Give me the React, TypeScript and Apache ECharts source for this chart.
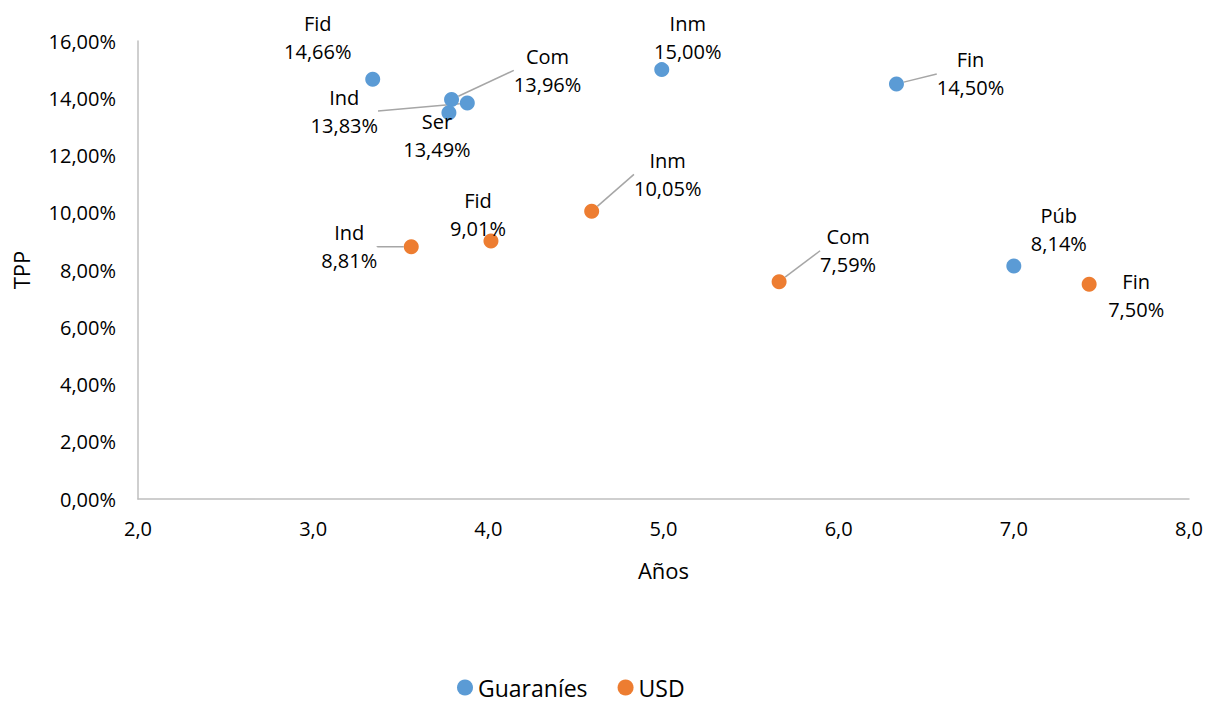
import React, { useEffect, useRef } from "react";
import * as echarts from "echarts";

const guaraniesNames = ["Fid", "Com", "Ind", "Ser", "Inm", "Fin", "Púb"];
const guaraniesYears = [3.34, 3.79, 3.88, 3.775, 4.99, 6.33, 7.0];
const guaraniesTPP = [0.1466, 0.1396, 0.1383, 0.1349, 0.15, 0.145, 0.0814];

const usdNames = ["Ind", "Fid", "Inm", "Com", "Fin"];
const usdYears = [3.56, 4.015, 4.59, 5.66, 7.43];
const usdTPP = [0.0881, 0.0901, 0.1005, 0.0759, 0.075];

// label offsets (px) relative to the point, and whether a leader line is drawn
const guaraniesLabelDx = [-55, 96, -123, -12, 26, 74, 45];
const guaraniesLabelDy = [-42, -29, 8, 23, -32, -10, -36];
const guaraniesLeader = [false, true, true, false, false, true, false];
const usdLabelDx = [-62, -13, 76, 69, 47];
const usdLabelDy = [0, -27, -37, -31, 11];
const usdLeader = [true, false, true, true, false];

const FONT = "'Open Sans', 'Noto Sans', sans-serif";
const pct = (v: number) => (v * 100).toFixed(2).replace(".", ",") + "%";

export default function App() {
  const ref = useRef<HTMLDivElement>(null);
  useEffect(() => {
    if (!ref.current) return;
    document.body.style.margin = "0";
    const chart = echarts.init(ref.current, undefined, { renderer: "svg" });
    const mk = (names: string[], xs: number[], ys: number[], leader: boolean[]) =>
      xs.map((x, i) => ({
        value: [x, ys[i]],
        name: names[i],
        labelLine: { show: leader[i] },
      }));
    const labelCommon = {
      show: true,
      position: "inside" as const,
      color: "#000",
      fontFamily: FONT,
      fontSize: 20,
      lineHeight: 28,
      align: "center" as const,
      formatter: (p: any) => `${p.name}\n${pct(p.value[1])}`,
    };
    chart.setOption({
      animation: false,
      textStyle: { fontFamily: FONT },
      grid: {
        left: 138,
        right: 27,
        top: 41,
        bottom: 203,
        containLabel: false,
        outerBoundsMode: "none",
      },
      xAxis: {
        type: "value",
        min: 2,
        max: 8,
        interval: 1,
        name: "Años",
        nameLocation: "middle",
        nameGap: 60,
        nameTextStyle: { fontSize: 22, color: "#000", fontFamily: FONT },
        axisLine: { show: true, lineStyle: { color: "#BFBFBF", width: 1.5 } },
        axisTick: { show: false },
        splitLine: { show: false },
        axisLabel: {
          color: "#000",
          fontSize: 20,
          margin: 19,
          fontFamily: FONT,
          formatter: (v: number) => v.toFixed(1).replace(".", ","),
        },
      },
      yAxis: {
        type: "value",
        min: 0,
        max: 0.16,
        interval: 0.02,
        name: "TPP",
        nameLocation: "middle",
        nameGap: 106,
        nameTextStyle: { fontSize: 22, lineHeight: 22, color: "#000", fontFamily: FONT },
        axisLine: { show: true, lineStyle: { color: "#BFBFBF", width: 1.5 } },
        axisTick: { show: false },
        splitLine: { show: false },
        axisLabel: {
          color: "#000",
          fontSize: 20,
          margin: 22,
          fontFamily: FONT,
          formatter: (v: number) => pct(v),
        },
      },
      legend: {
        top: 676,
        left: 457,
        padding: 0,
        icon: "circle",
        itemWidth: 16,
        itemHeight: 16,
        itemGap: 30,
        textStyle: { fontSize: 23, color: "#000", fontFamily: FONT },
        data: ["Guaraníes", "USD"],
      },
      series: [
        {
          name: "Guaraníes",
          type: "scatter",
          symbolSize: 15,
          itemStyle: { color: "#5B9BD5", opacity: 1 },
          data: mk(guaraniesNames, guaraniesYears, guaraniesTPP, guaraniesLeader),
          label: labelCommon,
          labelLine: { lineStyle: { color: "#A6A6A6", width: 1.5 } },
          labelLayout: (p: any) => ({
            dx: guaraniesLabelDx[p.dataIndex],
            dy: guaraniesLabelDy[p.dataIndex],
          }),
        },
        {
          name: "USD",
          type: "scatter",
          symbolSize: 15,
          itemStyle: { color: "#ED7D31", opacity: 1 },
          data: mk(usdNames, usdYears, usdTPP, usdLeader),
          label: labelCommon,
          labelLine: { lineStyle: { color: "#A6A6A6", width: 1.5 } },
          labelLayout: (p: any) => ({
            dx: usdLabelDx[p.dataIndex],
            dy: usdLabelDy[p.dataIndex],
          }),
        },
      ],
    });
    return () => chart.dispose();
  }, []);
  return <div ref={ref} style={{ width: 1216, height: 702 }} />;
}
